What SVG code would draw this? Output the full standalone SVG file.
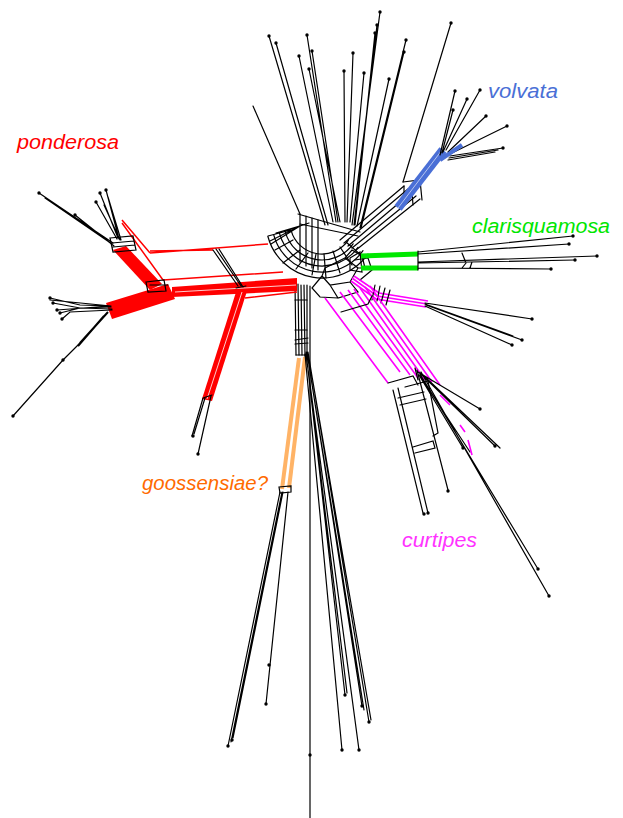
<svg xmlns="http://www.w3.org/2000/svg" width="623" height="818" viewBox="0 0 623 818">
<style>
.k{stroke:#000;stroke-width:1.2;fill:none;stroke-linecap:round}
.kt{stroke:#000;stroke-width:2;fill:none}
.r{stroke:#f00;stroke-width:1.5;fill:none}
.m{stroke:#f0f;stroke-width:1.6;fill:none}
.g{stroke:#00e800;fill:none}
.b{stroke:#4a6fd6;fill:none}
.o{stroke:#ffb366;fill:none}
.lbl{font-family:"Liberation Sans",Arial,sans-serif;font-style:italic;font-size:20px}
</style>
<defs>
<circle id="d" r="1.7" fill="#000"/>
</defs>
<rect width="623" height="818" fill="#fff"/>

<g id="hub">
<path class="k" d="M291.1,230.3 A32,32 0 0 0 348.2,240.4"/>
<path class="k" d="M285.3,231.8 A38,38 0 0 0 353.1,243.8"/>
<path class="k" d="M279.5,233.4 A44,44 0 0 0 358,247.3"/>
<path class="k" d="M273.7,234.9 A50,50 0 0 0 363,250.7"/>
<path class="k" d="M267.9,236.5 A56,56 0 0 0 367.9,254.1"/>
<path class="k" d="M291,230 L268,236 M296,228 L270,241 M300,226 L271,244 M303,225 L276,233 M309,223 L285,231"/>
<path class="k" d="M300,250 L283,263 M308,253 L296,269 M316,254 L312,275 M324,254 L326,278 M333,251 L340,273 M340,247 L352,265 M346,242 L362,256 M293,240 L275,250"/>
<path class="k" d="M300,214 L300,262 M306,216 L306,266 M312,218 L312,268 M318,220 L318,270"/>
<path class="k" d="M325,268 L345,258 L358,268 L350,282 L330,285 L322,276 Z M330,285 L338,298 L358,292 L350,282 M322,276 L312,288 L320,297 L338,298 M345,258 L352,250 L362,256 L365,268 L358,268"/>
<path class="k" d="M355,260 L368,258 L372,270 L360,280 M365,268 L372,270"/>
</g>

<g id="trunk">
<path class="k" d="M295,283 L296,355 M298,284 L299,355 M301,285 L302,355 M304,285 L305,356 M307,285 L307,356"/>
<path class="k" d="M295,300 L307,300 M295,330 L307,330 M295,340 L308,338 M295,344 L308,343 M296,355 L307,355"/>
</g>

<g id="goossensiae">
<path class="o" stroke-width="4" d="M299,358 L282,489"/>
<path class="o" stroke-width="4" d="M305,357 L289,488"/>
<path class="k" d="M279,487 L291,486 L291,492 L280,493 Z"/>
<path class="k" d="M280,492 L228,746 M282,492 L231,742 M283,492 L233,738 M288,492 L266,704"/>
<use href="#d" x="228" y="746"/><use href="#d" x="232" y="740"/><use href="#d" x="266" y="704"/><use href="#d" x="269" y="665"/>
<text class="lbl" x="142" y="490" fill="#ff6a00" textLength="126" lengthAdjust="spacingAndGlyphs">goossensiae?</text>
</g>

<g id="south">
<path class="k" d="M310,286 L310,818"/>
<path class="k" d="M306,352 L345,695 M307,352 L362,706 M308,352 L369,722 M305,354 L342,750 M306,354 L359,750 M307,353 L364,710 M308,353 L371,720 M306,353 L347,693"/>
<use href="#d" x="345" y="695"/><use href="#d" x="362" y="706"/><use href="#d" x="369" y="722"/><use href="#d" x="342" y="750"/><use href="#d" x="359" y="750"/><use href="#d" x="310" y="755"/>
</g>

<g id="ponderosa">
<polygon fill="#f00" points="113,250 126,246 162,284 150,290"/>
<path class="r" d="M122,220 L150,253 M122,223 L163,280 M150,253 L268,244 M163,280 L283,272 M245,298 L297,292 M150,251 L213,250"/>
<polygon fill="#f00" points="106,303 112,319 175,299 168,284"/>
<polygon fill="#f00" points="172,287 297,278 297,291 172,297"/>
<path stroke="#fff" stroke-width="0.8" d="M175,292 L296,285"/>
<polygon fill="#f00" points="237,289 247,291 212,401 202,399"/>
<path stroke="#fff" stroke-width="0.8" d="M242,292 L207,399"/>
<path class="k" d="M213,250 L238,286 M216,249 L241,286 M219,249 L243,287 M236,288 L246,286"/>
<path class="k" d="M146,282 L164,280 L166,291 L148,292 Z M150,285 L168,285"/>
<path class="k" d="M203,398 L192,436 M205,398 L194,434 M211,396 L198,454 M203,398 L212,395"/>
<use href="#d" x="193" y="436"/><use href="#d" x="198" y="454"/>
<path class="k" d="M110,238 L133,236 L136,250 L113,252 Z M112,243 L134,241 M113,247 L135,245"/>
<path class="k" d="M113,243 L39,193 M114,246 L75,215 M112,244 L45,198 M118,238 L100,193 M119,239 L106,190 M117,239 L96,202 M120,240 L104,205 M121,240 L108,197"/>
<use href="#d" x="39" y="193"/><use href="#d" x="75" y="215"/><use href="#d" x="100" y="193"/><use href="#d" x="106" y="190"/><use href="#d" x="96" y="202"/>
<path class="k" d="M110,306 L80,305 L50,298 M111,307 L80,308 L53,303 M112,309 L80,308 L60,313 M112,310 L70,312 L62,319 M110,306 L57,310 M111,306 L50,300"/>
<use href="#d" x="50" y="298"/><use href="#d" x="53" y="303"/><use href="#d" x="60" y="313"/><use href="#d" x="62" y="319"/><use href="#d" x="57" y="310"/>
<path class="kt" d="M108,312 L80,343 M104,316 L78,346"/>
<path class="k" d="M80,343 L63,360 L13,416"/>
<use href="#d" x="13" y="416"/><use href="#d" x="63" y="360"/>
<text class="lbl" x="17" y="149" fill="#f00" textLength="102" lengthAdjust="spacingAndGlyphs">ponderosa</text>
</g>

<g id="north">
<path class="k" d="M269,36 L325,225 M276,43 L328,225 M299,56 L333,222 M307,35 L336,222 M312,51 L338,222 M309,69 L340,222 M344,71 L345,222 M353,53 L347,222 M364,73 L350,222 M380,12 L352,225 M377,25 L354,225 M375,33 L355,225 M389,79 L357,226 M406,40 L360,228 M404,52 L361,228 M253,106 L300,214 M451,23 L403,182"/>
<use href="#d" x="269" y="36"/><use href="#d" x="276" y="43"/><use href="#d" x="299" y="56"/><use href="#d" x="307" y="35"/><use href="#d" x="312" y="51"/><use href="#d" x="309" y="69"/><use href="#d" x="344" y="71"/><use href="#d" x="353" y="53"/><use href="#d" x="364" y="73"/><use href="#d" x="380" y="12"/><use href="#d" x="377" y="25"/><use href="#d" x="375" y="33"/><use href="#d" x="389" y="79"/><use href="#d" x="406" y="40"/><use href="#d" x="404" y="52"/><use href="#d" x="451" y="23"/>
<path class="k" d="M298,214 L360,232 M300,224 L358,236"/>
</g>

<g id="volvata">
<path class="k" d="M340,240 L404,186 M344,243 L408,189 M348,246 L412,192 M352,248 L416,196 M356,250 L420,199"/>
<path class="k" d="M403,182 L420,180 L422,200 M404,186 L404,205 M412,192 L413,205"/>
<path class="b" stroke-width="9" d="M398,208 L443,150"/>
<path stroke="#fff" stroke-width="0.6" d="M398,208 L442,150"/>
<path class="k" d="M440,155 L455,91 M442,153 L453,110 M443,152 L467,99 M446,150 L480,90 M448,152 L486,116 M450,154 L507,126 M450,156 L503,148 M449,158 L498,150 M448,160 L495,152"/>
<path class="b" stroke-width="4" d="M440,160 L462,145"/>
<use href="#d" x="455" y="91"/><use href="#d" x="453" y="110"/><use href="#d" x="467" y="99"/><use href="#d" x="480" y="90"/><use href="#d" x="486" y="116"/><use href="#d" x="507" y="126"/><use href="#d" x="503" y="148"/>
<text class="lbl" x="488" y="98" fill="#4a6fd6" textLength="70" lengthAdjust="spacingAndGlyphs">volvata</text>
</g>

<g id="clarisquamosa">
<path class="k" d="M350,258 L360,252 L362,272 L350,270 Z"/>
<path class="g" stroke-width="5" d="M361,256 L418,254"/>
<path class="g" stroke-width="5" d="M361,268 L418,268"/>
<path class="k" d="M418,251 L418,270 M418,252 L573,236 M418,254 L569,244 M418,262 L597,256 M418,263 L575,260 M418,268 L551,269 M462,253 L466,263 L462,268 M472,262 L470,268"/>
<use href="#d" x="573" y="236"/><use href="#d" x="569" y="244"/><use href="#d" x="597" y="256"/><use href="#d" x="575" y="260"/><use href="#d" x="551" y="269"/>
<text class="lbl" x="472" y="233" fill="#00e600" textLength="138" lengthAdjust="spacingAndGlyphs">clarisquamosa</text>
</g>

<g id="curtipes">
<path class="m" d="M352,278 L377,296 L427,304 M354,276 L379,293 L428,301 M351,281 L376,299 L426,307"/>
<path class="k" d="M375,285 L372,300 M380,286 L377,301 M385,288 L381,303 M390,290 L386,305"/>
<path class="k" d="M425,303 L532,319 M426,305 L522,340 M425,306 L512,345 M425,304 L513,336"/>
<use href="#d" x="532" y="319"/><use href="#d" x="522" y="340"/><use href="#d" x="512" y="345"/>
<path class="m" d="M325,298 L388,383 M340,292 L400,372 M348,290 L410,375 M354,289 L418,378 M360,288 L425,380 M365,287 L432,382 M370,286 L440,385"/>
<path class="k" d="M341,312 L368,304 L372,296"/>
<path class="k" d="M388,383 L413,376 L418,385 M393,390 L423,513 M398,388 L428,513 M405,387 L428,381 L438,433 L433,436 M398,398 L424,392 M400,405 L426,399 M413,447 L433,441 L435,448 L415,453 M417,370 L448,490 M415,368 L418,380"/>
<use href="#d" x="424" y="514"/><use href="#d" x="428" y="513"/><use href="#d" x="448" y="491"/>
<path class="k" d="M418,372 L480,409 M420,373 L495,446 M421,372 L549,596 M420,374 L538,569 M419,375 L463,448 M420,376 L470,452 M422,374 L500,448"/>
<use href="#d" x="480" y="409"/><use href="#d" x="495" y="446"/><use href="#d" x="549" y="596"/><use href="#d" x="538" y="569"/><use href="#d" x="463" y="448"/>
<path class="m" d="M440,395 L450,405 M468,440 L472,455 M460,425 L465,432"/>
<text class="lbl" x="402" y="547" fill="#ff33ff" textLength="75" lengthAdjust="spacingAndGlyphs">curtipes</text>
</g>
</svg>
